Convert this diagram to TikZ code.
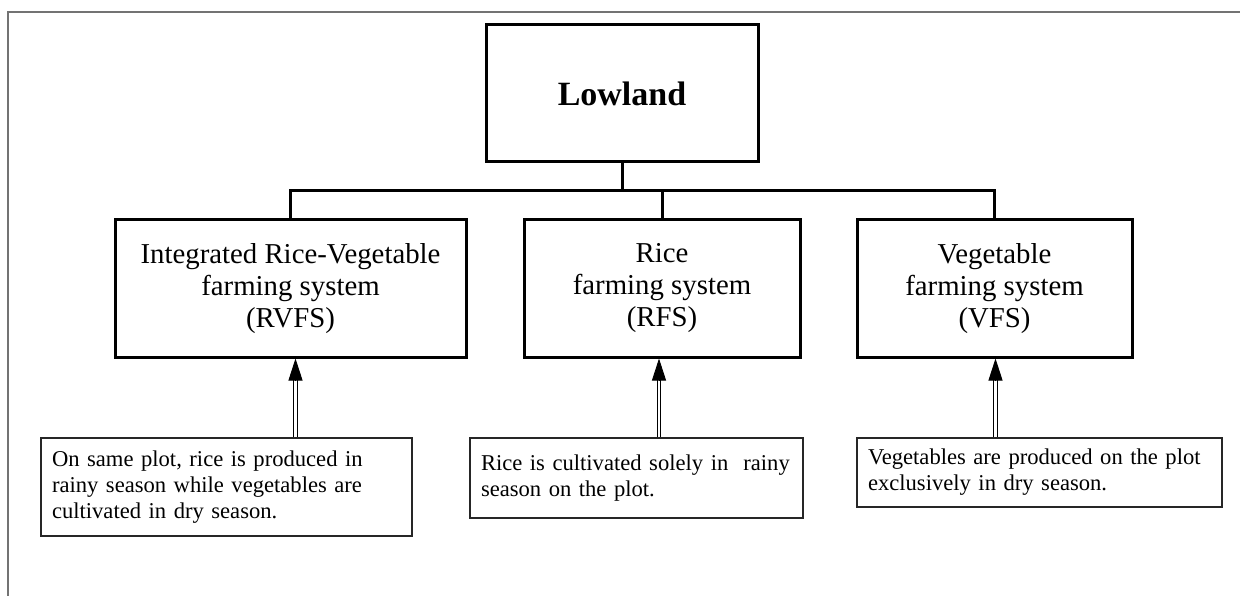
\documentclass[tikz,border=0pt]{standalone}
\usepackage{fontspec}
\setmainfont{Liberation Serif}
\usetikzlibrary{positioning,arrows.meta}

\tikzset{
  topbox/.style={draw, line width=3pt, minimum width=272pt, minimum height=137pt,
    font=\fontsize{34}{40}\selectfont\bfseries},
  sysbox/.style={draw, line width=3pt, minimum height=137pt, align=center,
    font=\fontsize{28.8}{32}\selectfont},
  notebox/.style={draw=black!85, line width=1.3pt, inner xsep=11pt, align=left,
    font=\fontsize{22.6}{26}\selectfont},
  tree/.style={line width=3pt},
  dbl/.style={double, double distance=2.6pt, line width=0.9pt},
  tip/.style={line width=0.9pt, -{Triangle[length=22pt,width=14pt]}}
}

\begin{document}
\begin{tikzpicture}[x=1pt,y=-1pt]
  \useasboundingbox (0,0) rectangle (1240,596);
  % Frame
  \draw[black!55, line width=2.5pt] (8,596) -- (8,12) -- (1240,12);
  % Top level
  \node[topbox] (low) at (622,93.5) {Lowland};
  \coordinate (bar) at (622,191);
  % Farming systems
  \node[sysbox, minimum width=351pt] (rvfs) at (290.5,288.5) {Integrated Rice-Vegetable\\farming system\\(RVFS)};
  \node[sysbox, minimum width=276pt] (rfs) at (662,288.5) {Rice\\farming system\\(RFS)};
  \node[sysbox, minimum width=275pt] (vfs) at (994.5,288.5) {Vegetable\\farming system\\(VFS)};
  % Tree lines
  \draw[tree] (low.south) -- (bar);
  \draw[tree] (rvfs.north) -- (rvfs.north |- bar) -- (vfs.north |- bar) -- (vfs.north);
  \draw[tree] (rfs.north) -- (rfs.north |- bar);
  % Descriptions
  \node[notebox, text width=349pt, minimum height=98pt] (nrvfs) at (226.5,487)
    {On same plot, rice is produced in\\rainy season while vegetables are\\cultivated in dry season.};
  \node[notebox, text width=311pt, minimum height=80pt] (nrfs) at (636.5,478)
    {Rice is cultivated solely in~ rainy\\season on the plot.};
  \node[notebox, text width=343pt, minimum height=69pt] (nvfs) at (1039.5,472.5)
    {Vegetables are produced on the plot\\exclusively in dry season.};
  % Arrows
  \draw[dbl] ([xshift=5pt]rvfs.south |- nrvfs.north) -- ([xshift=5pt,yshift=-20pt]rvfs.south);
  \draw[tip] ([xshift=5pt,yshift=-22pt]rvfs.south) -- ([xshift=5pt]rvfs.south);
  \draw[dbl] ([xshift=-3pt]rfs.south |- nrfs.north) -- ([xshift=-3pt,yshift=-20pt]rfs.south);
  \draw[tip] ([xshift=-3pt,yshift=-22pt]rfs.south) -- ([xshift=-3pt]rfs.south);
  \draw[dbl] ([xshift=1pt]vfs.south |- nvfs.north) -- ([xshift=1pt,yshift=-20pt]vfs.south);
  \draw[tip] ([xshift=1pt,yshift=-22pt]vfs.south) -- ([xshift=1pt]vfs.south);
\end{tikzpicture}
\end{document}
